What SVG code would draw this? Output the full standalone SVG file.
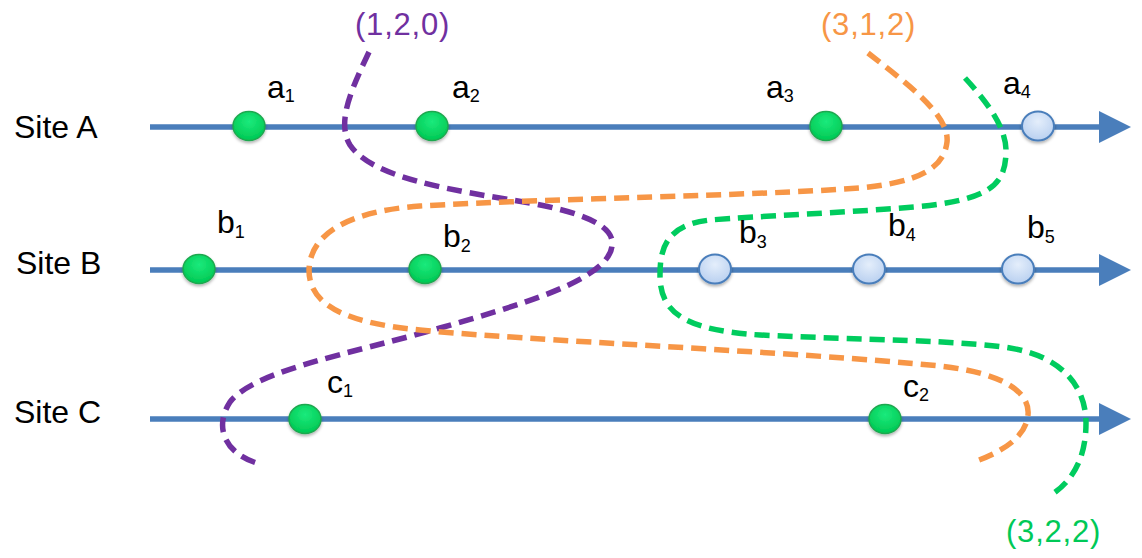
<svg xmlns="http://www.w3.org/2000/svg" width="1142" height="558" viewBox="0 0 1142 558">
<style>
.site{font-family:"Liberation Sans",Arial,sans-serif;font-size:32px;fill:#000}
.lbl{font-family:"Liberation Sans",Arial,sans-serif;font-size:32px;fill:#000}
.sub{font-size:18px}
.vec{font-family:"Liberation Sans",Arial,sans-serif;font-size:31px;letter-spacing:0.8px}
.axis{stroke:#4A7EBB;stroke-width:5.5;fill:none}
.head{fill:#4A7EBB}
.cut{fill:none;stroke-width:5.5;stroke-dasharray:15 8}
.g{fill:url(#gg);stroke:#1FA84F;stroke-width:1.5;filter:url(#sh)}
.b{fill:url(#bg);stroke:#4A7EBB;stroke-width:2;filter:url(#sh)}
</style>
<defs>
<radialGradient id="gg" cx="0.5" cy="0.35" r="0.65">
<stop offset="0" stop-color="#1BEA7C"/>
<stop offset="1" stop-color="#00C853"/>
</radialGradient>
<radialGradient id="bg" cx="0.5" cy="0.35" r="0.65">
<stop offset="0" stop-color="#E4EEFB"/>
<stop offset="1" stop-color="#B9D0F0"/>
</radialGradient>
<filter id="sh" x="-50%" y="-50%" width="200%" height="200%">
<feDropShadow dx="0" dy="2" stdDeviation="1.5" flood-color="#000" flood-opacity="0.3"/>
</filter>
</defs>
<rect width="1142" height="558" fill="#fff"/>

<g id="timelines">
<line class="axis" x1="150" y1="127" x2="1102" y2="127"/>
<polygon class="head" points="1099,111 1131,127 1099,143"/>
<line class="axis" x1="150" y1="270" x2="1102" y2="270"/>
<polygon class="head" points="1099,254 1131,270 1099,286"/>
<line class="axis" x1="150" y1="419" x2="1102" y2="419"/>
<polygon class="head" points="1099,403 1131,419 1099,435"/>
</g>

<g id="site-labels">
<text class="site" x="14" y="138">Site A</text>
<text class="site" x="16" y="274">Site B</text>
<text class="site" x="14" y="423">Site C</text>
</g>

<g id="connectors">
<path id="cut-120" class="cut" stroke="#7030A0" d="M369,52 C352,88 336,122 350,145 C372,178 450,190 530,203 C590,214 615,228 612,246 C608,280 520,305 440,328 C350,354 255,370 230,402 C213,428 226,455 260,464"/>
<path id="cut-312" class="cut" stroke="#F79646" d="M868,53 C905,82 950,115 947,142 C944,168 920,182 860,188 C750,196 560,198 420,206 C340,212 310,238 309,270 C309,300 335,322 420,330 C520,340 800,352 940,366 C1010,374 1030,395 1028,415 C1026,436 1005,450 979,460"/>
<path id="cut-322" class="cut" stroke="#00CC5E" d="M965,78 C990,105 1007,130 1006,153 C1005,185 990,200 915,207 C840,213 760,216 710,220 C665,225 660,250 660,275 C660,310 680,330 760,335 C860,340 960,340 1010,348 C1060,356 1086,385 1086,423 C1086,455 1075,478 1054,493"/>
</g>

<g id="vec-labels">
<text class="vec" x="355" y="35" fill="#7030A0">(1,2,0)</text>
<text class="vec" x="821" y="35" fill="#F79646">(3,1,2)</text>
<text class="vec" x="1006" y="542" fill="#00C957">(3,2,2)</text>
</g>

<g id="a1"><ellipse class="g" cx="249" cy="126" rx="16" ry="14.5"/><text class="lbl" x="267" y="98">a<tspan class="sub" dy="4">1</tspan></text></g>
<g id="a2"><ellipse class="g" cx="432" cy="126" rx="16" ry="14.5"/><text class="lbl" x="452" y="98">a<tspan class="sub" dy="4">2</tspan></text></g>
<g id="a3"><ellipse class="g" cx="826" cy="126" rx="16" ry="14.5"/><text class="lbl" x="766" y="98">a<tspan class="sub" dy="4">3</tspan></text></g>
<g id="a4"><ellipse class="b" cx="1038" cy="126" rx="16" ry="14.5"/><text class="lbl" x="1003" y="94">a<tspan class="sub" dy="4">4</tspan></text></g>

<g id="b1"><ellipse class="g" cx="199" cy="269" rx="16" ry="14.5"/><text class="lbl" x="217" y="233">b<tspan class="sub" dy="5">1</tspan></text></g>
<g id="b2"><ellipse class="g" cx="425" cy="269" rx="16" ry="14.5"/><text class="lbl" x="443" y="247">b<tspan class="sub" dy="5">2</tspan></text></g>
<g id="b3"><ellipse class="b" cx="715" cy="269" rx="16" ry="14.5"/><text class="lbl" x="739" y="243">b<tspan class="sub" dy="5">3</tspan></text></g>
<g id="b4"><ellipse class="b" cx="869" cy="269" rx="16" ry="14.5"/><text class="lbl" x="888" y="236">b<tspan class="sub" dy="5">4</tspan></text></g>
<g id="b5"><ellipse class="b" cx="1018" cy="269" rx="16" ry="14.5"/><text class="lbl" x="1027" y="238">b<tspan class="sub" dy="5">5</tspan></text></g>

<g id="c1"><ellipse class="g" cx="305" cy="419" rx="16" ry="14.5"/><text class="lbl" x="327" y="393">c<tspan class="sub" dy="4">1</tspan></text></g>
<g id="c2"><ellipse class="g" cx="885" cy="419" rx="16" ry="14.5"/><text class="lbl" x="903" y="397">c<tspan class="sub" dy="4">2</tspan></text></g>
</svg>
